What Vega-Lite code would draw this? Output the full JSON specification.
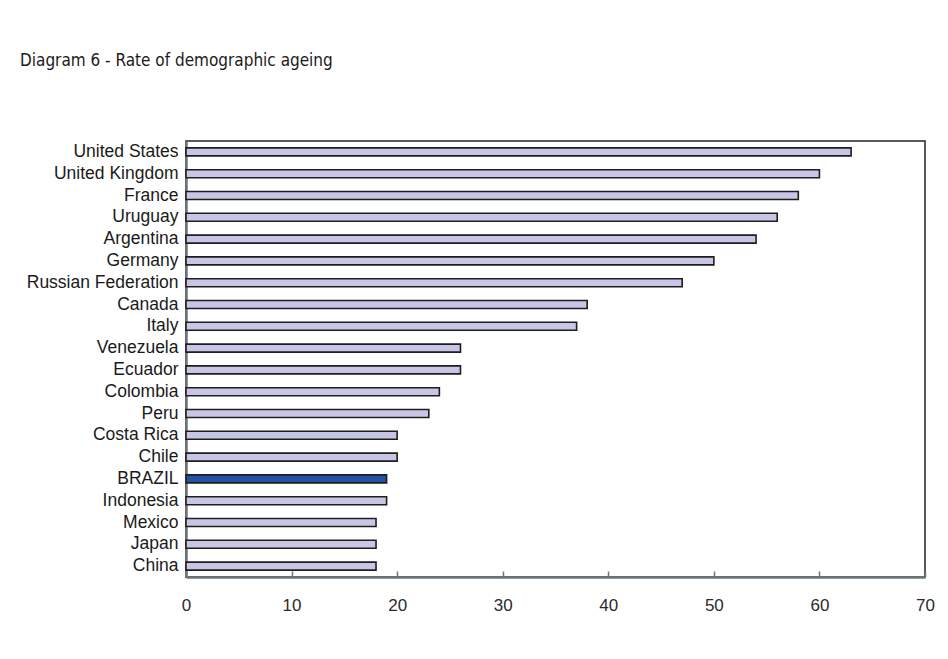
{
  "$schema": "https://vega.github.io/schema/vega-lite/v6.json",
  "width": 739,
  "height": 436,
  "autosize": {"type": "none"},
  "padding": {"left": 186, "top": 141, "right": 23, "bottom": 82},
  "background": "white",
  "title": {
    "text": "Diagram 6 - Rate of demographic ageing",
    "anchor": "start",
    "frame": "group",
    "dx": -166,
    "offset": 58,
    "baseline": "alphabetic",
    "font": "DejaVu Sans Condensed, Liberation Sans, sans-serif",
    "fontSize": 17,
    "fontWeight": "normal",
    "color": "#1a1a1a"
  },
  "config": {
    "view": {"stroke": "#222222", "strokeWidth": 1.5},
    "axis": {"grid": false}
  },
  "data": {
    "values": [
      {"country": "United States", "value": 63},
      {"country": "United Kingdom", "value": 60},
      {"country": "France", "value": 58},
      {"country": "Uruguay", "value": 56},
      {"country": "Argentina", "value": 54},
      {"country": "Germany", "value": 50},
      {"country": "Russian Federation", "value": 47},
      {"country": "Canada", "value": 38},
      {"country": "Italy", "value": 37},
      {"country": "Venezuela", "value": 26},
      {"country": "Ecuador", "value": 26},
      {"country": "Colombia", "value": 24},
      {"country": "Peru", "value": 23},
      {"country": "Costa Rica", "value": 20},
      {"country": "Chile", "value": 20},
      {"country": "BRAZIL", "value": 19},
      {"country": "Indonesia", "value": 19},
      {"country": "Mexico", "value": 18},
      {"country": "Japan", "value": 18},
      {"country": "China", "value": 18}
    ]
  },
  "mark": {"type": "bar", "size": 8, "stroke": "#1e1e1e", "strokeWidth": 1.6},
  "encoding": {
    "y": {
      "field": "country",
      "type": "nominal",
      "sort": null,
      "title": null,
      "axis": {
        "ticks": false,
        "labelPadding": 8,
        "labelFont": "Liberation Sans, Arial, sans-serif",
        "labelFontSize": 17.5,
        "labelColor": "#1a1a1a",
        "domainColor": "#6c777c",
        "domainWidth": 2.5
      }
    },
    "x": {
      "field": "value",
      "type": "quantitative",
      "title": null,
      "scale": {"domain": [0, 70], "nice": false},
      "axis": {
        "values": [0, 10, 20, 30, 40, 50, 60, 70],
        "tickSize": -6,
        "tickColor": "#6c777c",
        "tickWidth": 1.5,
        "labelPadding": 26,
        "labelFlush": false,
        "labelFont": "Liberation Sans, Arial, sans-serif",
        "labelFontSize": 17,
        "labelColor": "#2a2a2a",
        "domainColor": "#6c777c",
        "domainWidth": 2.5
      }
    },
    "fill": {
      "condition": {"test": "datum.country === 'BRAZIL'", "value": "#2153a2"},
      "value": "#c8c6e6"
    }
  }
}
